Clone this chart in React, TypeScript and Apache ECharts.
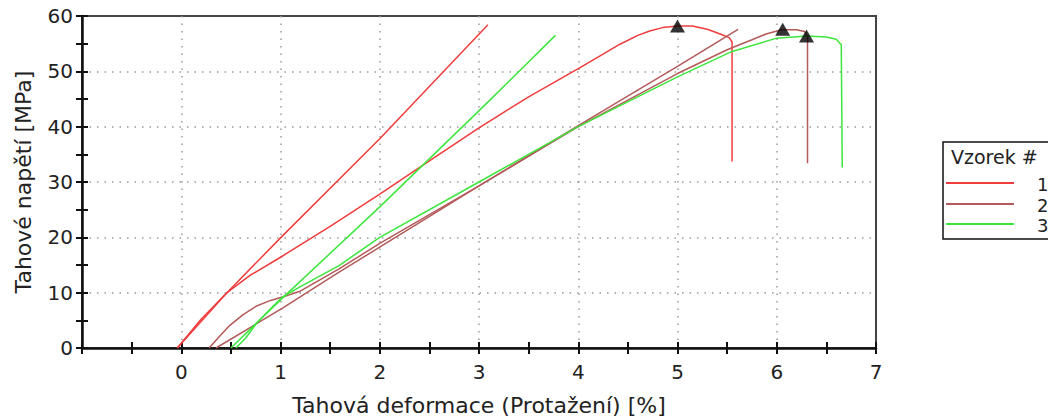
import React, { useEffect, useRef } from "react";
import * as echarts from "echarts";

// ---- data (strain %, stress MPa) ----
const sample1Main: [number, number][] = [
  [-0.04, 0], [0.2, 5.2], [0.46, 10], [0.7, 13.2], [1, 16.4], [1.5, 22], [2, 27.8],
  [2.5, 33.8], [3, 39.8], [3.5, 45.4], [4, 50.5], [4.25, 53.1], [4.42, 54.9], [4.6, 56.5],
  [4.72, 57.3], [4.85, 57.9], [5.0, 58.2], [5.15, 58.2], [5.3, 57.6], [5.45, 56.6],
  [5.52, 56.1], [5.55, 55.3], [5.55, 33.7],
];
const sample1Line: [number, number][] = [
  [-0.04, 0], [0.46, 10], [1, 19.9], [2, 37.8], [3.09, 58.4],
];
const sample2Main: [number, number][] = [
  [0.28, 0], [0.38, 2], [0.49, 4.1], [0.62, 6], [0.76, 7.6], [0.9, 8.6], [1.02, 9.2],
  [1.19, 10.2], [1.59, 14.3], [2, 18.9], [3, 29.3], [4, 40], [5, 49.6], [5.5, 53.9],
  [5.75, 55.7], [5.9, 56.8], [6.05, 57.5], [6.2, 57.5], [6.28, 57.2], [6.31, 56.4], [6.31, 33.4],
];
const sample2Line: [number, number][] = [
  [0.35, 0], [1.02, 7.2], [1.59, 13.7], [3, 29.3], [4, 40.2], [5, 50.9], [5.61, 57.6],
];
const sample3Main: [number, number][] = [
  [0.55, 0], [0.65, 1.8], [0.76, 4.5], [0.9, 7.1], [1.02, 9.2], [1.2, 11.1], [1.59, 14.9],
  [2, 20], [3, 30], [4, 40], [5, 49], [5.55, 53.6], [6, 56], [6.3, 56.4], [6.5, 56.2],
  [6.6, 55.8], [6.65, 54.8], [6.66, 32.6],
];
const sample3Line: [number, number][] = [
  [0.5, 0], [1, 8.7], [2, 25.5], [3.11, 44.8], [3.77, 56.5],
];
const peaks: [number, number][] = [
  [5.0, 58.2], [6.06, 57.6], [6.3, 56.4],
];
const sampleNames = ["1", "2", "3"];
const sampleColors = ["#f03c3c", "#b45a5a", "#3ce63c"];

const xName = "Tahová deformace (Protažení) [%]";
const yName = "Tahové napětí [MPa]";
const legendTitle = "Vzorek #";

const FONT = "DejaVu Sans";

export default function App() {
  const ref = useRef<HTMLDivElement>(null);
  useEffect(() => {
    if (!ref.current) return;
    const chart = echarts.init(ref.current, null, { renderer: "svg" });
    const tickStyle = { color: "#111", width: 2 };
    const commonX = { type: "value", min: -1, max: 7, interval: 1, position: "bottom", offset: 0 };
    const commonY = { type: "value", min: 0, max: 60, interval: 10, position: "left", offset: 0 };
    const mkLine = (data: [number, number][], i: number, name: string) => ({
      type: "line",
      name,
      data,
      showSymbol: false,
      symbol: "none",
      lineStyle: { color: sampleColors[i], width: 1.5 },
      itemStyle: { color: sampleColors[i] },
      xAxisIndex: 0,
      yAxisIndex: 0,
      z: 3,
    });
    const legendGraphic: any[] = [
      {
        type: "rect",
        shape: { x: 943, y: 142, width: 140, height: 97 },
        style: { fill: "#fff", stroke: "#111", lineWidth: 1.5 },
      },
      {
        type: "text",
        x: 951,
        y: 157,
        style: { text: legendTitle, font: `19px "${FONT}"`, fill: "#222", textVerticalAlign: "middle" },
      },
    ];
    const legendYs = [183, 204, 224];
    sampleNames.forEach((n, i) => {
      legendGraphic.push({
        type: "line",
        shape: { x1: 946, y1: legendYs[i], x2: 1014, y2: legendYs[i] },
        style: { stroke: sampleColors[i], lineWidth: 2 },
      });
      legendGraphic.push({
        type: "text",
        x: 1037,
        y: legendYs[i] + 1,
        style: { text: n, font: `18px "${FONT}"`, fill: "#222", textVerticalAlign: "middle" },
      });
    });
    chart.setOption({
      animation: false,
      backgroundColor: "#fff",
      textStyle: { fontFamily: FONT },
      grid: {
        left: 82, right: 172, top: 16, bottom: 70,
        outerBoundsMode: "none",
        containLabel: false,
        show: true, borderColor: "#444", borderWidth: 2, backgroundColor: "transparent",
      },
      xAxis: [
        {
          ...commonX,
          name: xName,
          nameLocation: "middle",
          nameGap: 46,
          nameTextStyle: { fontSize: 22, color: "#222", fontFamily: FONT },
          axisLine: { show: true, onZero: false, lineStyle: { color: "#111", width: 2.5 } },
          axisTick: { show: true, inside: false, length: 6, lineStyle: tickStyle },
          minorTick: { show: true, splitNumber: 2, length: 6, lineStyle: tickStyle },
          axisLabel: {
            fontSize: 20, color: "#222", margin: 14, fontFamily: FONT,
            formatter: (v: number) => (v < 0 ? "" : String(v)),
          },
          splitLine: { show: true, showMinLine: false, showMaxLine: false, lineStyle: { color: "#999", width: 1.5, type: [1.5, 6] } },
        },
        {
          ...commonX,
          axisLine: { show: false, onZero: false },
          axisTick: { show: true, inside: true, length: 6, lineStyle: tickStyle },
          minorTick: { show: true, splitNumber: 2, length: 6, lineStyle: tickStyle },
          axisLabel: { show: false },
          splitLine: { show: false },
        },
      ],
      yAxis: [
        {
          ...commonY,
          name: yName,
          nameLocation: "middle",
          nameGap: 48,
          nameTextStyle: { fontSize: 22, color: "#222", fontFamily: FONT },
          axisLine: { show: true, onZero: false, lineStyle: { color: "#111", width: 2.5 } },
          axisTick: { show: true, inside: false, length: 6, lineStyle: tickStyle },
          minorTick: { show: true, splitNumber: 2, length: 6, lineStyle: tickStyle },
          axisLabel: { fontSize: 20, color: "#222", margin: 9, fontFamily: FONT },
          splitLine: { show: true, showMinLine: false, showMaxLine: false, lineStyle: { color: "#999", width: 1.5, type: [1.5, 6] } },
        },
        {
          ...commonY,
          axisLine: { show: false, onZero: false },
          axisTick: { show: true, inside: true, length: 6, lineStyle: tickStyle },
          minorTick: { show: true, splitNumber: 2, length: 6, lineStyle: tickStyle },
          axisLabel: { show: false },
          splitLine: { show: false },
        },
      ],
      series: [
        mkLine(sample1Main, 0, sampleNames[0]),
        mkLine(sample1Line, 0, sampleNames[0]),
        mkLine(sample2Main, 1, sampleNames[1]),
        mkLine(sample2Line, 1, sampleNames[1]),
        mkLine(sample3Main, 2, sampleNames[2]),
        mkLine(sample3Line, 2, sampleNames[2]),
        {
          type: "scatter",
          name: "max",
          data: peaks,
          symbol: "triangle",
          symbolSize: [15, 13],
          itemStyle: { color: "#000" },
          xAxisIndex: 0,
          yAxisIndex: 0,
          z: 5,
        },
      ],
      graphic: legendGraphic,
    });
    return () => chart.dispose();
  }, []);
  return (
    <div
      ref={ref}
      style={{ position: "absolute", left: 0, top: 0, width: 1048, height: 418, overflow: "hidden" }}
    />
  );
}
